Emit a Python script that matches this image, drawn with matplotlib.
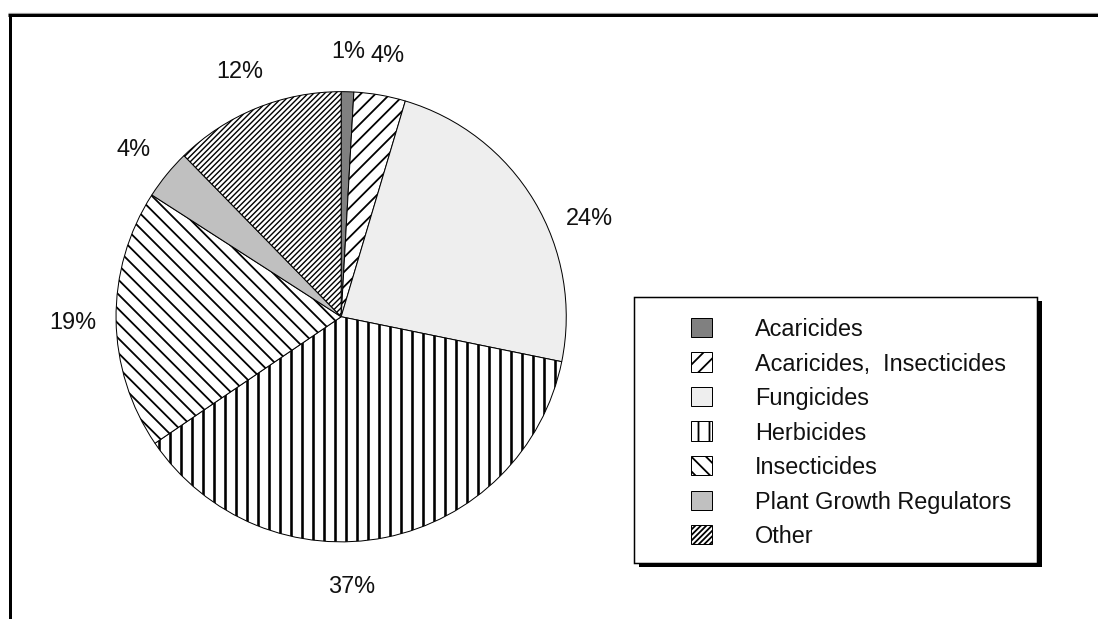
import matplotlib
matplotlib.use("Agg")
import matplotlib.pyplot as plt
from matplotlib import patheffects
from matplotlib.patches import Rectangle
import numpy as np

# pesticide sales share by class (percent)
categories = ["Acaricides", "Acaricides,  Insecticides", "Fungicides", "Herbicides",
              "Insecticides", "Plant Growth Regulators", "Other"]
shares = [0.9, 3.7, 23.6, 37.3, 18.6, 3.6, 12.3]

face_colors = ["#808080", "white", "#eeeeee", "white", "white", "#c0c0c0", "white"]
hatches = [None, "///", None, "||", "\\\\\\", None, "////////"]
hatch_widths = [1, 1.8, 1, 2.6, 1.8, 1, 1.4]   # pixels
label_shift = [0, 0, 9, 9, 0, 0, 0]   # degrees, clockwise

DPI = 132
W, H = 1098, 619
PX = 72.0 / DPI          # points per pixel
FS = 23.5                # text size in pixels

plt.rcParams["font.family"] = ["Liberation Sans", "DejaVu Sans"]
plt.rcParams["hatch.linewidth"] = 1.8 * PX
plt.rcParams["hatch.color"] = "black"

fig = plt.figure(figsize=((W + 0.5) / DPI, (H + 0.5) / DPI), dpi=DPI)
ax = fig.add_axes([0, 0, 1, 1])

cx, cy, r = 341, H - 317, 225
wedges, _ = ax.pie(shares, startangle=90, counterclock=False,
                   center=(cx, cy), radius=r, colors=face_colors,
                   wedgeprops=dict(edgecolor="black", linewidth=1.0 * PX))
for w, h, hw in zip(wedges, hatches, hatch_widths):
    if h:
        w.set_hatch(h)
        if hasattr(w, "set_hatch_linewidth"):
            w.set_hatch_linewidth(hw * PX)

ax.set_xlim(0, W)
ax.set_ylim(0, H)
ax.axis("off")

# percentage labels outside the pie
for w, s, shift in zip(wedges, shares, label_shift):
    mid = np.deg2rad((w.theta1 + w.theta2) / 2 - shift)
    x = cx + 1.19 * r * np.cos(mid)
    y = cy + 1.19 * r * np.sin(mid)
    ax.text(x, y - 0.716 * FS / 2, f"{round(s)}%", ha="center", va="baseline",
            fontsize=FS * PX, color="#111111")

# legend box with a hard drop shadow
box = Rectangle((634, H - 563), 403, 266, facecolor="white", edgecolor="black",
                linewidth=1.5 * PX, zorder=3)
box.set_path_effects([patheffects.SimplePatchShadow(offset=(4.5 * PX, -4.5 * PX),
                                                    shadow_rgbFace="black", alpha=1),
                      patheffects.Normal()])
ax.add_patch(box)

leg = ax.legend(wedges, categories, loc="upper left",
                bbox_to_anchor=(691, H - 318), bbox_transform=ax.transData,
                frameon=False, borderpad=0, borderaxespad=0,
                handlelength=21 / FS, handleheight=21 / FS,
                handletextpad=43 / FS, labelspacing=0.49,
                fontsize=FS * PX)
leg.set_zorder(4)
for t in leg.get_texts():
    t.set_color("#111111")

# outer chart frame (top and left edges)
ax.plot([8, W], [H - 13, H - 13], color="#999999", linewidth=1.2 * PX,
        solid_capstyle="butt")
ax.plot([8, W], [H - 15.5, H - 15.5], color="black", linewidth=3 * PX,
        solid_capstyle="butt")
ax.plot([9.5, 9.5], [0, H - 14], color="black", linewidth=3 * PX,
        solid_capstyle="butt")

fig.savefig("out.png", dpi=DPI)
